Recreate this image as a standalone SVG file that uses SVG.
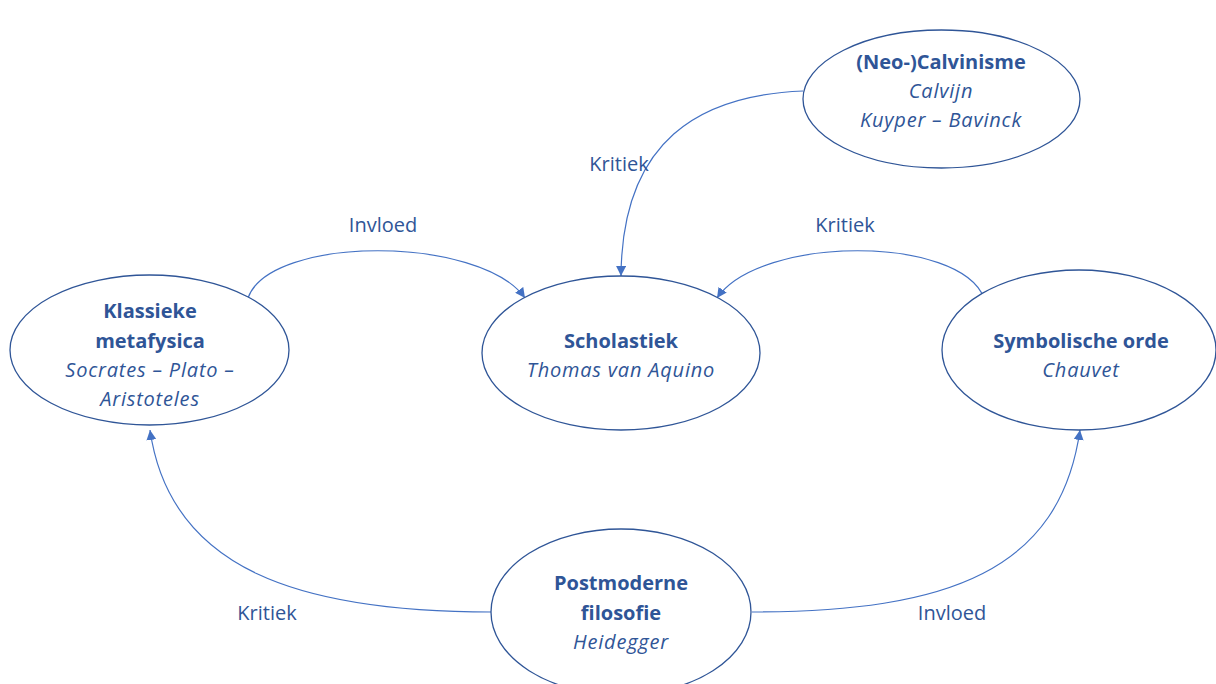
<svg xmlns="http://www.w3.org/2000/svg" width="1216" height="684" viewBox="0 0 1216 684">
<defs>
<style>
.node ellipse{fill:#fff;stroke:#2F5597;stroke-width:1.3}
.t{font-family:"Open Sans","Liberation Sans",sans-serif;font-size:20px;fill:#2F5597;text-anchor:middle}
.b{font-weight:bold}
.i{font-style:italic;letter-spacing:0.8px}
.conn path{fill:none;stroke:#4472C4;stroke-width:1.2}
.lbl{font-family:"Open Sans","Liberation Sans",sans-serif;font-size:20px;fill:#2F5597;text-anchor:middle}
</style>
<marker id="ah" viewBox="0 0 10 10" refX="10" refY="5" markerWidth="10" markerHeight="10" markerUnits="userSpaceOnUse" orient="auto">
<path d="M0,0 L10,5 L0,10 z" fill="#4472C4"/>
</marker>
</defs>
<rect width="1216" height="684" fill="#fff"/>
<g id="connectors" class="conn">
<path d="M248,298 C270,235 480,235 525,298" marker-end="url(#ah)"/>
<path d="M803,91 C700,95 622,140 621,276" marker-end="url(#ah)"/>
<path d="M984,298 C960,235 760,235 717,298" marker-end="url(#ah)"/>
<path d="M492,612 C300,612 170,570 150,430" marker-end="url(#ah)"/>
<path d="M752,612 C950,612 1060,570 1080,430" marker-end="url(#ah)"/>
</g>
<g id="labels">
<text class="lbl" x="383" y="232">Invloed</text>
<text class="lbl" x="619" y="171">Kritiek</text>
<text class="lbl" x="845" y="232">Kritiek</text>
<text class="lbl" x="267" y="620">Kritiek</text>
<text class="lbl" x="952" y="620">Invloed</text>
</g>
<g id="klassieke" class="node">
<ellipse cx="149.5" cy="350" rx="139.5" ry="75"/>
<text class="t b" x="150" y="318">Klassieke</text>
<text class="t b" x="150" y="348">metafysica</text>
<text class="t i" x="150" y="377">Socrates – Plato –</text>
<text class="t i" x="150" y="406">Aristoteles</text>
</g>
<g id="scholastiek" class="node">
<ellipse cx="621" cy="353" rx="139" ry="77"/>
<text class="t b" x="621" y="348">Scholastiek</text>
<text class="t i" x="621" y="377">Thomas van Aquino</text>
</g>
<g id="symbolische" class="node">
<ellipse cx="1079" cy="350" rx="137" ry="80"/>
<text class="t b" x="1081" y="348">Symbolische orde</text>
<text class="t i" x="1081" y="377">Chauvet</text>
</g>
<g id="calvinisme" class="node">
<ellipse cx="941.5" cy="99" rx="138.5" ry="69"/>
<text class="t b" x="941" y="69">(Neo-)Calvinisme</text>
<text class="t i" x="941" y="98">Calvijn</text>
<text class="t i" x="941" y="127">Kuyper – Bavinck</text>
</g>
<g id="postmoderne" class="node">
<ellipse cx="621" cy="612" rx="130" ry="83"/>
<text class="t b" x="621" y="590">Postmoderne</text>
<text class="t b" x="621" y="620">filosofie</text>
<text class="t i" x="621" y="649">Heidegger</text>
</g>
</svg>
